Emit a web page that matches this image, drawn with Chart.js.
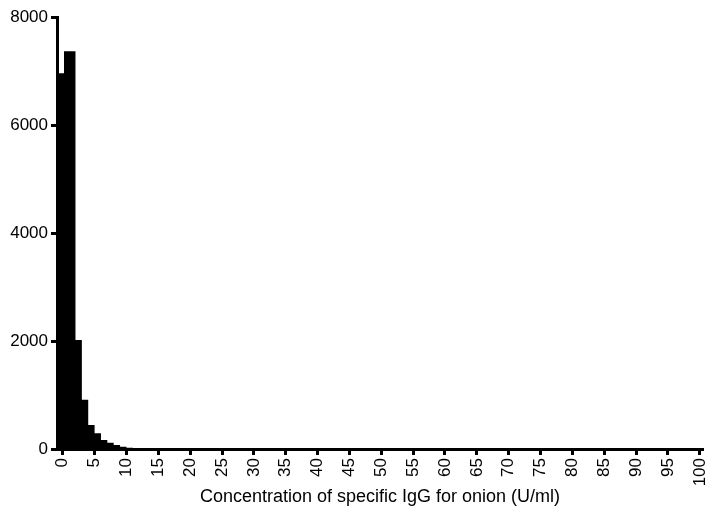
<!DOCTYPE html>
<html>
<head>
<meta charset="utf-8">
<script src="https://cdn.jsdelivr.net/npm/chart.js@4/dist/chart.umd.min.js"></script>
<style>
  html, body { margin: 0; padding: 0; background: #fff; }
  #wrap { width: 705px; height: 519px; }
</style>
</head>
<body>
<div id="wrap"><canvas id="chart" width="705" height="519"></canvas></div>
<script>
// histogram bins: left edge of each bin (U/ml) and its count
const binStart = [-0.9, 0.2, 2, 3, 4, 5, 6, 7, 8, 9, 10, 11, 12, 13, 14, 15, 16, 17, 18, 20, 100.5];
const counts   = [6960, 7365, 2020, 910, 445, 290, 167, 117, 74, 43, 25, 15, 10, 7, 5, 4, 3, 2, 1, 0, 0];

const xTicks = [0, 5, 10, 15, 20, 25, 30, 35, 40, 45, 50, 55, 60, 65, 70, 75, 80, 85, 90, 95, 100];
const yTicks = [0, 2000, 4000, 6000, 8000];

const xTitle = "Concentration of specific IgG for onion (U/ml)";

const points = binStart.map((x, i) => ({ x: x, y: counts[i] }));

const font = "'Liberation Sans', Arial, Helvetica, sans-serif";

new Chart(document.getElementById("chart").getContext("2d"), {
  type: "line",
  data: {
    datasets: [{
      data: points,
      stepped: true,
      fill: "origin",
      backgroundColor: "#000",
      borderColor: "#000",
      borderWidth: 0,
      pointRadius: 0
    }]
  },
  options: {
    responsive: false,
    animation: false,
    layout: { padding: { top: 17, right: 2, left: 0, bottom: 0 } },
    plugins: { legend: { display: false }, tooltip: { enabled: false } },
    scales: {
      x: {
        type: "linear",
        min: -0.9,
        max: 100.5,
        afterBuildTicks: s => { s.ticks = xTicks.map(v => ({ value: v })); },
        afterFit: s => { s.height = 70; s.paddingLeft = 0; s.paddingRight = 0; },
        border: { color: "#000", width: 3 },
        grid: { drawOnChartArea: false, drawTicks: true, tickLength: 6, tickWidth: 3, tickColor: "#000" },
        ticks: { color: "#000", font: { family: font, size: 17 }, minRotation: 90, maxRotation: 90, padding: 3, autoSkip: false,
                 callback: v => String(v) },
        title: { display: true, text: xTitle, color: "#000", font: { family: font, size: 18 }, padding: { top: 0, bottom: 11 } }
      },
      y: {
        min: 0,
        max: 8000,
        afterBuildTicks: s => { s.ticks = yTicks.map(v => ({ value: v })); },
        afterFit: s => { s.width = 57; },
        border: { color: "#000", width: 3 },
        grid: { drawOnChartArea: false, drawTicks: true, tickLength: 6, tickWidth: 3, tickColor: "#000" },
        ticks: { color: "#000", font: { family: font, size: 17 }, padding: 3, callback: v => String(v) }
      }
    }
  }
});
</script>
</body>
</html>
